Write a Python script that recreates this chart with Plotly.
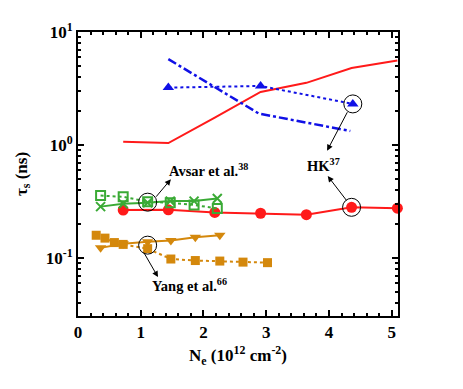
import math
import plotly.graph_objs as go

# red, no markers (upper curve)
red_line_x = [0.72, 1.44, 2.18, 2.91, 3.64, 4.36, 5.09]
red_line_y = [1.07, 1.04, 1.75, 2.95, 3.55, 4.8, 5.6]
# red filled circles
red_pts_x = [0.72, 1.44, 2.18, 2.91, 3.64, 4.36, 5.09]
red_pts_y = [0.266, 0.267, 0.253, 0.249, 0.242, 0.281, 0.276]
# HK blue triangles (dotted) and dash-dot line
hk_tri_x = [1.44, 2.91, 4.38]
hk_tri_y = [3.22, 3.33, 2.31]
hk_dd_x = [1.44, 2.88, 4.34]
hk_dd_y = [5.75, 1.9, 1.33]
# Avsar et al. (green)
av_sq_x = [0.36, 0.72, 1.11, 1.47, 1.85, 2.22]
av_sq_y = [0.357, 0.348, 0.315, 0.308, 0.295, 0.274]
av_x_x = [0.36, 0.72, 1.11, 1.47, 1.85, 2.22]
av_x_y = [0.285, 0.302, 0.308, 0.319, 0.319, 0.336]
# Yang et al. (orange)
yg_sq_x = [0.29, 0.43, 0.58, 0.72, 1.11, 1.48, 1.87, 2.26, 2.63, 3.02]
yg_sq_y = [0.159, 0.150, 0.137, 0.132, 0.121, 0.098, 0.095, 0.094, 0.092, 0.091]
yg_tri_x = [0.36, 0.72, 1.11, 1.48, 1.87, 2.26]
yg_tri_y = [0.123, 0.134, 0.139, 0.143, 0.153, 0.159]
# highlighted points (open black circles)
hl_x = [1.11, 1.11, 4.38, 4.36]
hl_y = [0.312, 0.13, 2.31, 0.281]

RED = "#ff1a1a"
BLUE = "#1010e6"
GREEN = "#3aaa35"
ORANGE = "#d4880c"
FONT = "Liberation Serif"

fig = go.Figure()
fig.add_trace(go.Scatter(x=red_line_x, y=red_line_y, mode="lines",
                         line=dict(color=RED, width=2)))
fig.add_trace(go.Scatter(x=red_pts_x, y=red_pts_y, mode="lines+markers",
                         line=dict(color=RED, width=2),
                         marker=dict(symbol="circle", size=11, color=RED)))
fig.add_trace(go.Scatter(x=hk_dd_x, y=hk_dd_y, mode="lines",
                         line=dict(color=BLUE, width=2.5, dash="dashdot")))
fig.add_trace(go.Scatter(x=hk_tri_x, y=hk_tri_y, mode="lines+markers",
                         line=dict(color=BLUE, width=2, dash="dot"),
                         marker=dict(symbol="triangle-up", size=10, color=BLUE)))
fig.add_trace(go.Scatter(x=av_sq_x, y=av_sq_y, mode="lines+markers",
                         line=dict(color=GREEN, width=2, dash="dot"),
                         marker=dict(symbol="square-open", size=9, color=GREEN,
                                     line=dict(width=2))))
fig.add_trace(go.Scatter(x=av_x_x, y=av_x_y, mode="lines+markers",
                         line=dict(color=GREEN, width=2),
                         marker=dict(symbol="x-thin-open", size=9, color=GREEN,
                                     line=dict(width=2, color=GREEN))))
fig.add_trace(go.Scatter(x=yg_sq_x, y=yg_sq_y, mode="lines+markers",
                         line=dict(color=ORANGE, width=2, dash="dot"),
                         marker=dict(symbol="square", size=9, color=ORANGE)))
fig.add_trace(go.Scatter(x=yg_tri_x, y=yg_tri_y, mode="lines+markers",
                         line=dict(color=ORANGE, width=2),
                         marker=dict(symbol="triangle-down", size=10, color=ORANGE)))
fig.add_trace(go.Scatter(x=hl_x, y=hl_y, mode="markers",
                         marker=dict(symbol="circle-open", size=18, color="black",
                                     line=dict(width=1, color="black"))))
fig.update_traces(cliponaxis=False)

# arrows (annotation y on a log axis is given as log10)
for hx, hy, ax, ay in [(1.48, 0.498, -16, 19), (1.275, 0.0678, -15, -26),
                       (3.97, 0.89, 21, -40), (3.98, 0.532, 20, 26)]:
    fig.add_annotation(x=hx, y=math.log10(hy), ax=ax, ay=ay, text="", showarrow=True,
                       arrowhead=2, arrowsize=1.2, arrowwidth=1, arrowcolor="black")

lab_font = dict(family=FONT, size=14.5, color="black")
fig.add_annotation(x=2.08, y=math.log10(0.596), text="<b>Avsar et al.<sup>38</sup></b>",
                   showarrow=False, font=lab_font)
fig.add_annotation(x=3.91, y=math.log10(0.662), text="<b>HK<sup>37</sup></b>",
                   showarrow=False, font=lab_font)
fig.add_annotation(x=1.77, y=math.log10(0.0578), text="<b>Yang et al.<sup>66</sup></b>",
                   showarrow=False, font=lab_font)

minor_y = [m * 10 ** k for k in (-2, -1, 0) for m in range(2, 10)]
axis_common = dict(showline=True, linecolor="black", linewidth=2, mirror="ticks",
                   ticks="inside", ticklen=6, tickwidth=1.5, tickcolor="black",
                   showgrid=False, zeroline=False,
                   tickfont=dict(family=FONT, size=17, color="black"))

fig.update_xaxes(range=[0, 5.1], tickvals=[0, 1, 2, 3, 4, 5],
                 ticktext=["<b>%d</b>" % v for v in range(6)],
                 minor=dict(ticks="inside", ticklen=3, dtick=0.2, tickcolor="black",
                            showgrid=False),
                 title=dict(text="<b>N<sub>e</sub> (10<sup>12</sup> cm<sup>-2</sup>)</b>",
                            font=dict(family=FONT, size=17, color="black"), standoff=8),
                 **axis_common)
fig.update_yaxes(type="log", range=[-1.513, 1], tickvals=[0.1, 1, 10],
                 ticktext=["<b>10<sup>-1</sup></b>", "<b>10<sup>0</sup></b>",
                           "<b>10<sup>1</sup></b>"],
                 minor=dict(ticks="inside", ticklen=3, tickvals=minor_y, tickcolor="black",
                            showgrid=False),
                 title=dict(text="<b>τ<sub>s</sub> (ns)</b>",
                            font=dict(family=FONT, size=17, color="black"), standoff=14),
                 **axis_common)

# page body has an 8px margin, so the figure is shrunk and shifted to match
fig.update_layout(width=455, height=381, showlegend=False,
                  margin=dict(l=69, r=65, t=18, b=73),
                  paper_bgcolor="white", plot_bgcolor="white")

fig.write_html("out.html")
